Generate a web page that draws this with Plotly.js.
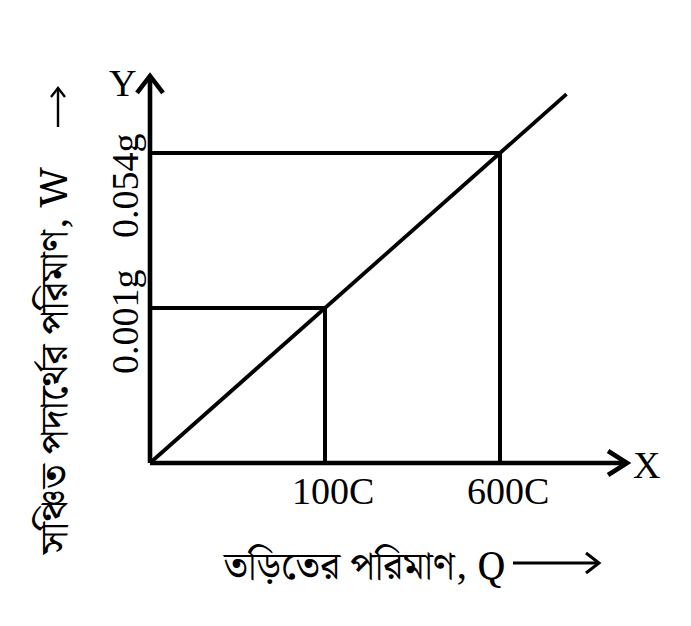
<!DOCTYPE html>
<html>
<head>
<meta charset="utf-8">
<script src="https://cdn.plot.ly/plotly-3.0.1.min.js"></script>
<style>html,body{margin:0;padding:0;background:#fff}</style>
</head>
<body>
<div id="chart" style="width:691px;height:626px"></div>
<script>
// Schematic chart: ticks are evenly spaced index positions on each axis
const qLabels = ["100C", "600C"];          // charge (X axis) tick labels
const qIndex = [1, 2];                      // schematic positions of those ticks
const wLabels = ["0.001g", "0.054g"];      // deposited mass (Y axis) tick labels
const wIndex = [1, 2];                      // schematic positions of those ticks
const lineQ = [0, 2.38];                    // W-Q straight line (schematic)
const lineW = [0, 2.38];
const xAxisEnd = 2.726;
const yAxisEnd = 2.497;
const xTitle = "তড়িতের পরিমাণ, Q";
const yTitle = "সঞ্চিত পদার্থের পরিমাণ, W";

const W = 691, H = 626;
const PX = p => p / W, PY = p => 1 - p / H;
const serif = "Liberation Serif, Times New Roman, serif";
const beng = "Noto Serif Bengali, Noto Sans Bengali, Lohit Bengali, FreeSerif, Noto Sans, serif";
const LW = 4;
const AW = 4.6;
const blk = "#000";

const traces = [];
// axes
traces.push({x: [0, xAxisEnd], y: [0, 0], mode: "lines", line: {color: blk, width: AW}, hoverinfo: "skip"});
traces.push({x: [0, 0], y: [0, yAxisEnd], mode: "lines", line: {color: blk, width: AW}, hoverinfo: "skip"});
// guide lines
for (let i = 0; i < qIndex.length; i++) {
  traces.push({x: [0, qIndex[i], qIndex[i]], y: [wIndex[i], wIndex[i], 0], mode: "lines",
    line: {color: blk, width: LW}, hoverinfo: "skip"});
}
// diagonal
traces.push({x: lineQ, y: lineW, mode: "lines", line: {color: blk, width: 3.8}, hoverinfo: "skip"});

const annotations = [];
const wShift = [-14, -33];
const ann = o => Object.assign({showarrow: false, xanchor: "center", yanchor: "middle"}, o);
qLabels.forEach((t, i) => annotations.push(ann({x: qIndex[i], y: 0, xref: "x", yref: "y", text: t,
  xshift: 8, yshift: -28, font: {family: serif, size: 38, color: blk}})));
wLabels.forEach((t, i) => annotations.push(ann({x: 0, y: wIndex[i], xref: "x", yref: "y", text: t,
  textangle: -90, xshift: -25, yshift: wShift[i], font: {family: serif, size: 38, color: blk}})));
annotations.push(ann({x: PX(123), y: PY(83), xref: "paper", yref: "paper", text: "Y",
  font: {family: serif, size: 38, color: blk}}));
annotations.push(ann({x: PX(646), y: PY(465), xref: "paper", yref: "paper", text: "X",
  font: {family: serif, size: 38, color: blk}}));
annotations.push(ann({x: PX(364), y: PY(567), xref: "paper", yref: "paper", text: xTitle,
  font: {family: beng, size: 39, color: blk}}));
annotations.push(ann({x: PX(55), y: PY(362), xref: "paper", yref: "paper", text: yTitle,
  textangle: -90, font: {family: beng, size: 39, color: blk}}));

const shapes = [
  // axis arrowheads (pixel-sized chevrons)
  {type: "path", xref: "x", yref: "y", xsizemode: "pixel", ysizemode: "pixel", xanchor: xAxisEnd, yanchor: 0,
   path: "M-19,12 L0,0 L-19,-12", line: {color: blk, width: AW}},
  {type: "path", xref: "x", yref: "y", xsizemode: "pixel", ysizemode: "pixel", xanchor: 0, yanchor: yAxisEnd,
   path: "M-13,-17 L0,0 L13,-17", line: {color: blk, width: AW}},
  // long arrow after X title
  {type: "line", xref: "paper", yref: "paper", x0: PX(513), x1: PX(598), y0: PY(563), y1: PY(563), line: {color: blk, width: 3}},
  {type: "path", xref: "paper", yref: "paper", xsizemode: "pixel", ysizemode: "pixel", xanchor: PX(599), yanchor: PY(563),
   path: "M-13,10 L0,0 L-13,-10", line: {color: blk, width: 3}},
  // up arrow above Y title
  {type: "line", xref: "paper", yref: "paper", x0: PX(58), x1: PX(58), y0: PY(127), y1: PY(89), line: {color: blk, width: 2.4}},
  {type: "path", xref: "paper", yref: "paper", xsizemode: "pixel", ysizemode: "pixel", xanchor: PX(58), yanchor: PY(88),
   path: "M-7,-9 L0,0 L7,-9", line: {color: blk, width: 2.4}}
];

const layout = {
  width: W, height: H,
  margin: {l: 0, r: 0, t: 0, b: 0},
  paper_bgcolor: "#fff", plot_bgcolor: "#fff",
  showlegend: false,
  xaxis: {range: [-150 / 175, 541 / 175], visible: false, fixedrange: true},
  yaxis: {range: [-163 / 155, 463 / 155], visible: false, fixedrange: true},
  annotations: annotations,
  shapes: shapes
};
Plotly.newPlot("chart", traces, layout, {staticPlot: true, displayModeBar: false});
</script>
</body>
</html>
